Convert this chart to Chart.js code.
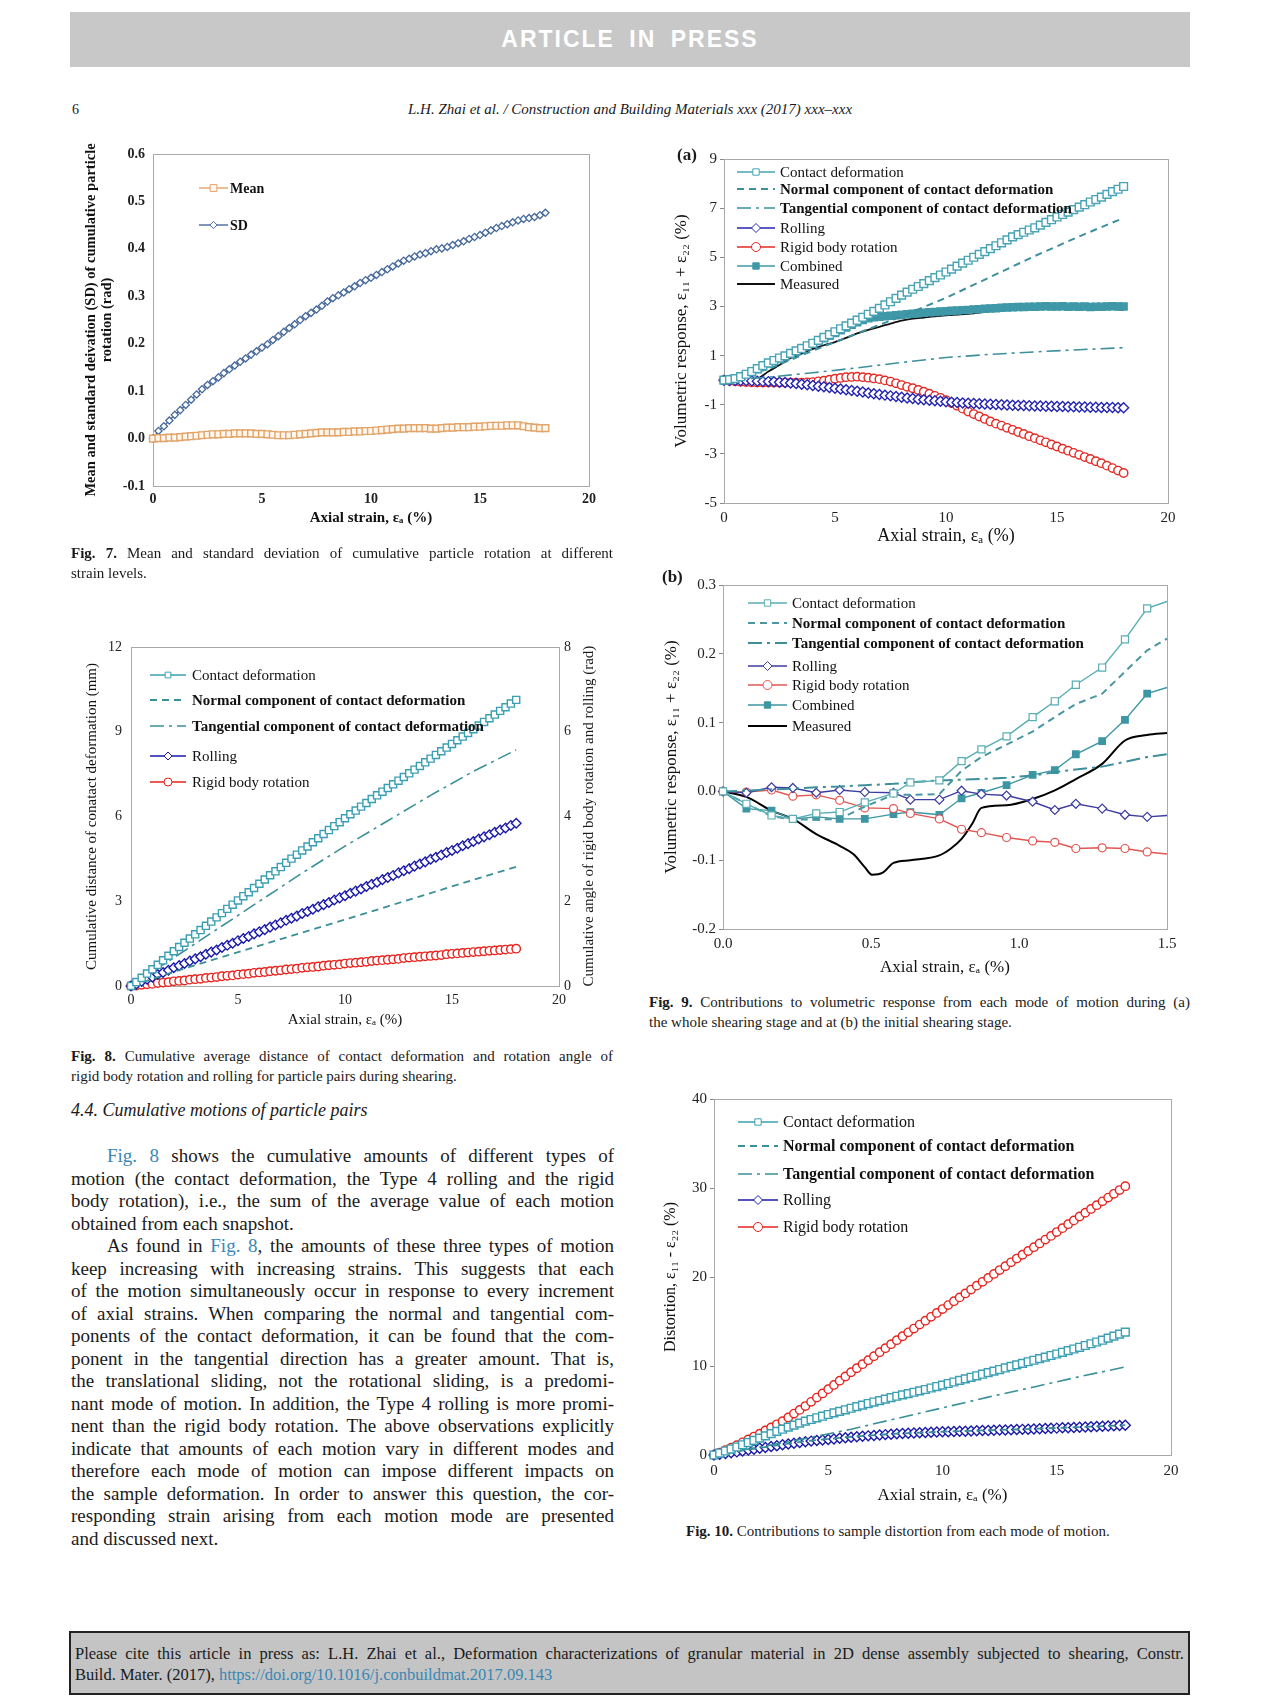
<!DOCTYPE html>
<html>
<head>
<meta charset="utf-8">
<script src="https://cdn.jsdelivr.net/npm/chart.js@4.4.1/dist/chart.umd.min.js"></script>
<style>
  body { margin: 0; background: #fff; }
  #page { position: relative; width: 1280px; height: 1706px; overflow: hidden; background: #fff;
          font-family: "Liberation Serif", "Times New Roman", serif; color: #1a1a1a; }
  canvas { position: absolute; }
  .abs { position: absolute; white-space: nowrap; }
  .bar { left: 70px; top: 12px; width: 1120px; height: 55px; background: #c8c8c8; }
  .bar span { display: block; text-align: center; color: #fff; font: bold 23px "Liberation Sans", Arial, sans-serif;
              line-height: 55px; letter-spacing: 2px; word-spacing: 6px; }
  .block div { white-space: normal; text-align: justify; text-align-last: justify; }
  .block div.l { text-align: left; text-align-last: left; }
  .block div.ind { padding-left: 36px; }
  .cap { font-size: 15px; line-height: 19.5px; }
  .body { font-size: 19px; line-height: 22.5px; }
  .lnk { color: #3a87b5; }
  .cite { left: 69px; top: 1631px; width: 1109px; height: 60px; border: 2px solid #222; background: #c4c4c4;
          padding: 0 4px; font-size: 16.5px; line-height: 21px; }
  .cite div { white-space: normal; text-align: justify; text-align-last: justify; padding-top: 10px; }
  .cite div.l { text-align-last: left; padding-top: 0; }
</style>
</head>
<body>
<div id="page">
  <div class="abs bar"><span>ARTICLE IN PRESS</span></div>
  <div class="abs" style="left:72px; top:101px; font-size:14px; line-height:18px;">6</div>
  <div class="abs" style="left:330px; width:600px; top:100px; text-align:center; font-style:italic; font-size:15px; line-height:18px;">L.H. Zhai et al. / Construction and Building Materials xxx (2017) xxx–xxx</div>

  <canvas id="fig7" width="560" height="400" style="left:60px; top:130px;"></canvas>
  <canvas id="fig9a" width="530" height="420" style="left:660px; top:135px;"></canvas>
  <canvas id="fig9b" width="540" height="420" style="left:650px; top:560px;"></canvas>
  <canvas id="fig8" width="560" height="410" style="left:60px; top:630px;"></canvas>
  <canvas id="fig10" width="550" height="440" style="left:640px; top:1080px;"></canvas>

  <div class="abs" style="left:677px; top:145px; font-weight:bold; font-size:17px; line-height:20px;">(a)</div>
  <div class="abs" style="left:662px; top:567px; font-weight:bold; font-size:17px; line-height:20px;">(b)</div>
  <div class="abs" style="left:398px; top:807px; width:380px; text-align:center; font-size:15px; line-height:18px; transform:rotate(-90deg);">Cumulative angle of rigid body rotation and rolling (rad)</div>

  <div class="abs block cap" style="left:71px; top:544px; width:542px;">
    <div><b>Fig. 7.</b> Mean and standard deviation of cumulative particle rotation at different</div>
    <div class="l">strain levels.</div>
  </div>
  <div class="abs block cap" style="left:71px; top:1047px; width:542px;">
    <div><b>Fig. 8.</b> Cumulative average distance of contact deformation and rotation angle of</div>
    <div class="l">rigid body rotation and rolling for particle pairs during shearing.</div>
  </div>
  <div class="abs block cap" style="left:649px; top:993px; width:541px;">
    <div><b>Fig. 9.</b> Contributions to volumetric response from each mode of motion during (a)</div>
    <div class="l">the whole shearing stage and at (b) the initial shearing stage.</div>
  </div>
  <div class="abs cap" style="left:686px; top:1522px;"><b>Fig. 10.</b> Contributions to sample distortion from each mode of motion.</div>

  <div class="abs" style="left:71px; top:1099px; font-style:italic; font-size:18px; line-height:22px;">4.4. Cumulative motions of particle pairs</div>
  <div class="abs block body" style="left:71px; top:1145px; width:543px;">
    <div class="ind"><span class="lnk">Fig. 8</span> shows the cumulative amounts of different types of</div>
    <div>motion (the contact deformation, the Type 4 rolling and the rigid</div>
    <div>body rotation), i.e., the sum of the average value of each motion</div>
    <div class="l">obtained from each snapshot.</div>
    <div class="ind">As found in <span class="lnk">Fig. 8</span>, the amounts of these three types of motion</div>
    <div>keep increasing with increasing strains. This suggests that each</div>
    <div>of the motion simultaneously occur in response to every increment</div>
    <div>of axial strains. When comparing the normal and tangential com-</div>
    <div>ponents of the contact deformation, it can be found that the com-</div>
    <div>ponent in the tangential direction has a greater amount. That is,</div>
    <div>the translational sliding, not the rotational sliding, is a predomi-</div>
    <div>nant mode of motion. In addition, the Type 4 rolling is more promi-</div>
    <div>nent than the rigid body rotation. The above observations explicitly</div>
    <div>indicate that amounts of each motion vary in different modes and</div>
    <div>therefore each mode of motion can impose different impacts on</div>
    <div>the sample deformation. In order to answer this question, the cor-</div>
    <div>responding strain arising from each motion mode are presented</div>
    <div class="l">and discussed next.</div>
  </div>

  <div class="abs cite">
    <div>Please cite this article in press as: L.H. Zhai et al., Deformation characterizations of granular material in 2D dense assembly subjected to shearing, Constr.</div>
    <div class="l">Build. Mater. (2017), <span class="lnk">https://doi.org/10.1016/j.conbuildmat.2017.09.143</span></div>
  </div>
</div>

<script>
"use strict";

// Axial strain grids (%) shared by the full-test figures.
const STRAIN = [0,0.25,0.5,0.75,1,1.25,1.5,1.75,2,2.25,2.5,2.75,3,3.25,3.5,3.75,4,4.25,4.5,4.75,
  5,5.25,5.5,5.75,6,6.25,6.5,6.75,7,7.25,7.5,7.75,8,8.25,8.5,8.75,9,9.25,9.5,9.75,10,10.25,10.5,10.75,
  11,11.25,11.5,11.75,12,12.25,12.5,12.75,13,13.25,13.5,13.75,14,14.25,14.5,14.75,15,15.25,15.5,15.75,
  16,16.25,16.5,16.75,17,17.25,17.5,17.75,18];
const STRAIN_HALF = [0,0.5,1,1.5,2,2.5,3,3.5,4,4.5,5,5.5,6,6.5,7,7.5,8,8.5,9,9.5,10,10.5,11,11.5,12,12.5,
  13,13.5,14,14.5,15,15.5,16,16.5,17,17.5,18];
const STRAIN_COARSE = [0,2,4,6,8,10,12,14,16,18];
const STRAIN_B = [0,0.079,0.164,0.236,0.315,0.394,0.479,0.576,0.633,0.731,0.806,0.873,0.958,1.046,1.121,1.192,1.281,1.358,1.433,1.5];

const X_TICKS_20 = [0, 5, 10, 15, 20];
const FIG7_Y_TICKS = [-0.1, 0, 0.1, 0.2, 0.3, 0.4, 0.5, 0.6];
const FIG8_Y_TICKS = [0, 3, 6, 9, 12];
const FIG8_Y2_TICKS = [0, 2, 4, 6, 8];
const FIG9A_Y_TICKS = [-5, -3, -1, 1, 3, 5, 7, 9];
const FIG9B_X_TICKS = [0, 0.5, 1, 1.5];
const FIG9B_Y_TICKS = [-0.2, -0.1, 0, 0.1, 0.2, 0.3];
const FIG10_Y_TICKS = [0, 10, 20, 30, 40];

// Fig. 7 (rad)
const FIG7_MEAN = [0.000,0.001,0.001,0.002, 0.002,0.003,0.004,0.005, 0.006,0.007,0.008,0.009, 0.009,0.010,0.010,0.011,
  0.011,0.011,0.011,0.010, 0.010,0.009,0.008,0.007, 0.007,0.007,0.008,0.009, 0.010,0.011,0.012,0.013,
  0.013,0.013,0.013,0.014, 0.014,0.015,0.015,0.016, 0.016,0.017,0.018,0.019, 0.020,0.021,0.021,0.022,
  0.022,0.022,0.022,0.021, 0.021,0.022,0.023,0.023, 0.024,0.024,0.024,0.025, 0.025,0.026,0.027,0.027,
  0.027,0.028,0.028,0.028, 0.026,0.024,0.023,0.022, 0.022];
const FIG7_SD = [0.000,0.016,0.026,0.038, 0.050,0.060,0.071,0.082, 0.093,0.104,0.113,0.121, 0.129,0.138,0.146,0.154,
  0.162,0.169,0.177,0.184, 0.192,0.199,0.208,0.216, 0.225,0.233,0.241,0.250, 0.258,0.265,0.272,0.280,
  0.289,0.296,0.302,0.308, 0.315,0.321,0.328,0.334, 0.339,0.345,0.351,0.357, 0.363,0.369,0.375,0.379,
  0.384,0.388,0.391,0.395, 0.399,0.401,0.404,0.408, 0.412,0.416,0.421,0.425, 0.429,0.434,0.439,0.444,
  0.448,0.452,0.456,0.460, 0.463,0.465,0.467,0.471, 0.476];

// Fig. 8: contact (mm, left axis), rolling / rigid rotation (rad, right axis)
const FIG8_CONTACT = [0.00,0.14,0.29,0.44, 0.59,0.75,0.91,1.07, 1.23,1.38,1.53,1.68, 1.83,1.98,2.13,2.28,
  2.43,2.58,2.73,2.88, 3.03,3.18,3.32,3.47, 3.62,3.77,3.92,4.06, 4.21,4.36,4.51,4.65,
  4.80,4.94,5.09,5.23, 5.38,5.52,5.66,5.80, 5.94,6.08,6.21,6.35, 6.48,6.62,6.75,6.88,
  7.01,7.14,7.27,7.40, 7.53,7.66,7.79,7.92, 8.05,8.18,8.31,8.44, 8.57,8.70,8.83,8.96,
  9.09,9.22,9.35,9.48, 9.61,9.74,9.87,10.00, 10.13];
const FIG8_NORMAL = [0, 0.5, 0.97, 1.43, 1.89, 2.35, 2.82, 3.29, 3.76, 4.22];
const FIG8_TANGENTIAL = [0, 1.0, 2.0, 3.0, 4.0, 4.95, 5.85, 6.75, 7.6, 8.36];
const FIG8_ROLLING = [0.00,0.05,0.11,0.16, 0.21,0.27,0.32,0.37, 0.43,0.48,0.53,0.59, 0.64,0.69,0.75,0.80,
  0.85,0.91,0.96,1.01, 1.07,1.12,1.17,1.23, 1.28,1.33,1.39,1.44, 1.49,1.55,1.60,1.65,
  1.71,1.76,1.81,1.87, 1.92,1.97,2.03,2.08, 2.13,2.19,2.24,2.29, 2.35,2.40,2.45,2.51,
  2.56,2.61,2.67,2.72, 2.77,2.83,2.88,2.93, 2.99,3.04,3.09,3.15, 3.20,3.25,3.31,3.36,
  3.41,3.47,3.52,3.57, 3.63,3.68,3.73,3.79, 3.84];
const FIG8_RIGID = [0.00,0.01,0.03,0.04, 0.05,0.07,0.08,0.09, 0.11,0.12,0.13,0.15, 0.16,0.17,0.19,0.20,
  0.21,0.23,0.24,0.25, 0.27,0.28,0.29,0.31, 0.32,0.33,0.35,0.36, 0.37,0.39,0.40,0.41,
  0.43,0.44,0.45,0.46, 0.48,0.49,0.50,0.51, 0.53,0.54,0.55,0.56, 0.57,0.59,0.60,0.61,
  0.62,0.63,0.64,0.66, 0.67,0.68,0.69,0.70, 0.71,0.72,0.73,0.75, 0.76,0.77,0.78,0.79,
  0.80,0.81,0.82,0.83, 0.84,0.85,0.86,0.87, 0.88];

// Fig. 9(a): volumetric response (%), whole shearing stage
const FIG9A_CONTACT = [0.00,0.02,0.06,0.14, 0.24,0.35,0.47,0.59, 0.70,0.80,0.90,0.99, 1.09,1.19,1.29,1.40,
  1.50,1.62,1.74,1.85, 1.97,2.09,2.21,2.32, 2.44,2.56,2.68,2.80, 2.92,3.06,3.19,3.33,
  3.46,3.58,3.70,3.81, 3.93,4.05,4.17,4.28, 4.40,4.52,4.64,4.76, 4.88,5.00,5.12,5.23,
  5.35,5.47,5.59,5.71, 5.83,5.92,6.02,6.11, 6.20,6.31,6.42,6.53, 6.64,6.74,6.84,6.94,
  7.04,7.14,7.25,7.35, 7.45,7.56,7.67,7.77, 7.88];
const FIG9A_NORMAL = [0, 0.45, 1.2, 1.9, 2.6, 3.35, 4.2, 5.05, 5.85, 6.6];
const FIG9A_TANGENTIAL = [0, 0.12, 0.3, 0.5, 0.72, 0.92, 1.05, 1.15, 1.24, 1.32];
const FIG9A_ROLLING = [0.00,-0.01,-0.01,-0.02, -0.02,-0.03,-0.04,-0.05, -0.06,-0.07,-0.09,-0.10, -0.12,-0.14,-0.17,-0.19,
  -0.22,-0.25,-0.27,-0.30, -0.33,-0.36,-0.39,-0.42, -0.45,-0.48,-0.52,-0.55, -0.58,-0.61,-0.64,-0.67,
  -0.70,-0.73,-0.75,-0.78, -0.80,-0.82,-0.84,-0.86, -0.88,-0.90,-0.91,-0.93, -0.94,-0.95,-0.96,-0.97,
  -0.98,-0.99,-1.00,-1.01, -1.02,-1.03,-1.03,-1.04, -1.05,-1.05,-1.06,-1.06, -1.07,-1.07,-1.08,-1.08,
  -1.09,-1.09,-1.10,-1.10, -1.11,-1.11,-1.11,-1.12, -1.12];
const FIG9A_RIGID = [0.00,-0.03,-0.05,-0.07, -0.08,-0.09,-0.10,-0.10, -0.10,-0.10,-0.10,-0.10, -0.10,-0.10,-0.10,-0.09,
  -0.08,-0.05,-0.02,0.02, 0.06,0.09,0.12,0.13, 0.14,0.12,0.10,0.07, 0.04,-0.01,-0.06,-0.13,
  -0.20,-0.27,-0.33,-0.40, -0.47,-0.55,-0.64,-0.72, -0.81,-0.93,-1.04,-1.16, -1.28,-1.38,-1.48,-1.58,
  -1.68,-1.77,-1.85,-1.94, -2.02,-2.11,-2.19,-2.28, -2.36,-2.45,-2.53,-2.62, -2.70,-2.79,-2.87,-2.96,
  -3.04,-3.13,-3.21,-3.30, -3.38,-3.48,-3.58,-3.68, -3.78];
const FIG9A_COMBINED = [0.00,0.02,0.05,0.12, 0.20,0.32,0.44,0.56, 0.68,0.78,0.88,0.97, 1.07,1.17,1.27,1.38,
  1.48,1.59,1.70,1.81, 1.92,2.03,2.14,2.25, 2.36,2.45,2.52,2.56, 2.58,2.60,2.62,2.64,
  2.66,2.68,2.70,2.72, 2.74,2.76,2.77,2.79, 2.80,2.82,2.83,2.85, 2.86,2.88,2.89,2.91,
  2.92,2.93,2.95,2.96, 2.97,2.98,2.98,2.99, 2.99,3.00,3.01,3.00, 3.00,3.01,2.99,3.00,
  2.99,3.00,2.98,2.99, 2.99,3.00,3.01,3.00, 3.00];
const FIG9A_MEASURED = [0,-0.1,-0.12,0.05,0.35,0.62,0.9,1.08,1.27,1.42,1.55,1.72,1.9,2.05,2.17,2.3,2.42,2.5,2.55,
  2.6,2.64,2.67,2.7,2.75,2.82,2.9,2.93,2.93,2.92,2.93,2.94,2.92,2.93,2.9,2.88,2.9,2.85];

// Fig. 9(b): initial shearing stage (%)
const FIG9B_CONTACT = [0,-0.018,-0.035,-0.04,-0.032,-0.03,-0.016,-0.003,0.013,0.016,0.044,0.061,0.08,0.108,0.131,0.155,0.18,0.221,0.266,0.276];
const FIG9B_NORMAL = [0,-0.018,-0.036,-0.041,-0.041,-0.04,-0.022,-0.005,-0.005,-0.004,0.03,0.05,0.068,0.087,0.108,0.127,0.142,0.174,0.205,0.222];
const FIG9B_TANGENTIAL = [0,0.001,0.003,0.004,0.006,0.007,0.009,0.011,0.013,0.016,0.017,0.018,0.02,0.023,0.028,0.032,0.036,0.043,0.05,0.054];
const FIG9B_ROLLING = [0,-0.002,0.006,0.005,-0.002,0.002,-0.001,-0.002,-0.012,-0.012,0.001,-0.004,-0.006,-0.015,-0.027,-0.018,-0.025,-0.034,-0.037,-0.035];
const FIG9B_RIGID = [0,-0.001,0.002,-0.007,-0.005,-0.013,-0.024,-0.025,-0.032,-0.04,-0.055,-0.06,-0.067,-0.072,-0.074,-0.083,-0.082,-0.083,-0.088,-0.091];
const FIG9B_COMBINED = [0,-0.025,-0.028,-0.04,-0.037,-0.04,-0.04,-0.033,-0.03,-0.034,-0.01,-0.002,0.009,0.024,0.031,0.054,0.073,0.104,0.142,0.151];
const FIG9B_MEASURED_X = [0,0.079,0.164,0.236,0.315,0.394,0.44,0.479,0.503,0.54,0.576,0.633,0.731,0.77,0.806,0.842,0.873,0.958,1.046,1.121,1.192,1.281,1.358,1.433,1.5];
const FIG9B_MEASURED = [0,-0.008,-0.028,-0.04,-0.062,-0.079,-0.091,-0.11,-0.121,-0.118,-0.104,-0.1,-0.093,-0.083,-0.069,-0.047,-0.024,-0.02,-0.011,0.0015,0.018,0.04,0.074,0.082,0.085];

// Fig. 10: distortion (%)
const FIG10_CONTACT = [0.00,0.22,0.45,0.67, 0.90,1.15,1.40,1.65, 1.90,2.15,2.40,2.65, 2.90,3.13,3.35,3.58,
  3.80,3.99,4.18,4.36, 4.55,4.73,4.90,5.08, 5.25,5.43,5.60,5.78, 5.95,6.11,6.28,6.44,
  6.60,6.75,6.90,7.05, 7.20,7.36,7.53,7.69, 7.85,8.03,8.20,8.38, 8.55,8.73,8.90,9.08,
  9.25,9.43,9.60,9.78, 9.95,10.13,10.30,10.48, 10.65,10.83,11.00,11.18, 11.35,11.54,11.73,11.91,
  12.10,12.30,12.50,12.70, 12.90,13.13,13.35,13.58, 13.80];
const FIG10_NORMAL = [0, 0.8, 1.55, 2.05, 2.4, 2.62, 2.78, 2.94, 3.14, 3.35];
const FIG10_TANGENTIAL = [0, 0.9, 1.85, 2.9, 4.1, 5.3, 6.5, 7.65, 8.8, 9.9];
const FIG10_ROLLING = [0.00,0.09,0.18,0.26, 0.35,0.45,0.55,0.65, 0.75,0.85,0.95,1.05, 1.15,1.24,1.33,1.41,
  1.50,1.56,1.63,1.69, 1.75,1.81,1.88,1.94, 2.00,2.05,2.10,2.15, 2.20,2.25,2.29,2.34,
  2.38,2.41,2.44,2.47, 2.50,2.53,2.55,2.58, 2.60,2.62,2.64,2.66, 2.68,2.70,2.72,2.74,
  2.76,2.78,2.80,2.82, 2.84,2.86,2.88,2.90, 2.92,2.95,2.97,3.00, 3.02,3.05,3.07,3.10,
  3.12,3.15,3.18,3.21, 3.24,3.26,3.29,3.31, 3.33];
const FIG10_RIGID = [0.00,0.27,0.55,0.82, 1.10,1.42,1.75,2.07, 2.40,2.75,3.10,3.45, 3.80,4.22,4.65,5.07,
  5.50,5.97,6.45,6.92, 7.40,7.87,8.35,8.82, 9.30,9.75,10.20,10.65, 11.10,11.55,12.00,12.45,
  12.90,13.34,13.78,14.21, 14.65,15.09,15.53,15.96, 16.40,16.84,17.28,17.71, 18.15,18.59,19.03,19.46,
  19.90,20.34,20.78,21.21, 21.65,22.07,22.50,22.92, 23.35,23.77,24.20,24.62, 25.05,25.49,25.93,26.36,
  26.80,27.22,27.65,28.07, 28.50,28.92,29.35,29.77, 30.20];

const SERIF = '"Liberation Serif", "Times New Roman", serif';
const AXIAL = "Axial strain, εₐ (%)";
const DASH = [7, 5];
const DASH_DOT = [14, 5, 3, 5];

Chart.defaults.font.family = SERIF;

function font(size, bold) {
  return { family: SERIF, size, weight: bold ? "bold" : "normal", lineHeight: 1.15 };
}

function series(label, xs, ys, style) {
  return Object.assign({
    label,
    data: ys.map((y, i) => ({ x: xs[i], y })),
    borderWidth: 1.4, pointRadius: 0, pointBorderWidth: 1.4, tension: 0, fill: false, clip: 8,
  }, style);
}

function openMark(color, shape, r) {
  return { borderColor: color, pointStyle: shape, pointRadius: r, pointBackgroundColor: "#fff", pointBorderColor: color };
}

function axis(a) {
  return {
    type: "linear", position: a.pos, min: a.min, max: a.max,
    afterBuildTicks: (s) => { s.ticks = a.ticks.map((v) => ({ value: v })); },
    afterFit: (s) => { if (a.pos === "bottom") s.height = a.size; else s.width = a.size; },
    ticks: { font: a.tickFont, color: "#222", padding: a.tickPad, callback: a.fmt || ((v) => v) },
    grid: { display: !!a.tickLen, drawOnChartArea: false, drawTicks: !!a.tickLen, tickLength: a.tickLen || 0, color: "#888" },
    border: { display: false },
    title: a.title
      ? { display: true, text: a.title, font: a.titleFont, color: "#111", padding: a.titlePad }
      : { display: false },
  };
}

// Grey box round the plot area, like the spreadsheet originals.
const framePlugin = {
  id: "frame",
  beforeDatasetsDraw(chart) {
    const { ctx, chartArea: a } = chart;
    ctx.save();
    ctx.strokeStyle = "#aaaaaa";
    ctx.lineWidth = 1;
    ctx.strokeRect(Math.round(a.left) + 0.5, Math.round(a.top) + 0.5,
      Math.round(a.right - a.left), Math.round(a.bottom - a.top));
    ctx.restore();
  },
};

function drawMark(ctx, shape, x, y, r, fill, stroke) {
  ctx.beginPath();
  if (shape === "rect") {
    const h = r * Math.SQRT1_2;
    ctx.rect(x - h, y - h, 2 * h, 2 * h);
  } else if (shape === "rectRot") {
    ctx.moveTo(x, y - r); ctx.lineTo(x + r, y); ctx.lineTo(x, y + r); ctx.lineTo(x - r, y); ctx.closePath();
  } else {
    ctx.arc(x, y, r, 0, Math.PI * 2);
  }
  ctx.fillStyle = fill; ctx.fill();
  ctx.lineWidth = 1; ctx.strokeStyle = stroke; ctx.stroke();
}

// Legend drawn inside the plot at the spots the figures use.
function inLegend(cfg) {
  return {
    id: "inLegend",
    afterDatasetsDraw(chart) {
      const ctx = chart.ctx;
      chart.data.datasets.forEach((ds, i) => {
        const y = cfg.rows[i];
        ctx.save();
        ctx.strokeStyle = ds.borderColor;
        ctx.lineWidth = ds.borderWidth;
        ctx.setLineDash(ds.borderDash || []);
        ctx.beginPath();
        ctx.moveTo(cfg.x0, y);
        ctx.lineTo(cfg.x1, y);
        ctx.stroke();
        ctx.setLineDash([]);
        if (ds.pointStyle) {
          const r = cfg.markR || ds.pointRadius;
          drawMark(ctx, ds.pointStyle, (cfg.x0 + cfg.x1) / 2, y, r, ds.pointBackgroundColor, ds.pointBorderColor);
        }
        const bold = cfg.bold.includes(i);
        ctx.font = `${bold ? "bold " : ""}${cfg.size}px ${SERIF}`;
        ctx.fillStyle = "#111";
        ctx.textBaseline = "middle";
        ctx.fillText(ds.label, cfg.tx, y + 1);
        ctx.restore();
      });
    },
  };
}

function plotChart(id, cfg) {
  const scales = {};
  for (const [key, a] of Object.entries(cfg.axes)) scales[key] = axis(a);
  return new Chart(document.getElementById(id), {
    type: "line",
    data: { datasets: cfg.datasets },
    options: {
      responsive: false, animation: false, events: [],
      layout: { padding: cfg.pad },
      scales,
      plugins: { legend: { display: false }, tooltip: { enabled: false } },
    },
    plugins: [framePlugin, inLegend(cfg.legend)],
  });
}

const one = (v) => v.toFixed(1);

// Fig. 7
plotChart("fig7", {
  pad: { left: 0, top: 24, right: 31, bottom: 0 },
  axes: {
    x: { pos: "bottom", min: 0, max: 20, ticks: X_TICKS_20, size: 44, tickFont: font(14, true), tickPad: 5,
         title: AXIAL, titleFont: font(15, true), titlePad: { top: 0, bottom: 3 } },
    y: { pos: "left", min: -0.1, max: 0.6, ticks: FIG7_Y_TICKS, size: 93, tickFont: font(14, true), tickPad: 8, fmt: one,
         title: ["Mean and standard deivation (SD) of cumulative particle", "rotation (rad)"],
         titleFont: { family: SERIF, size: 14.5, weight: "bold", lineHeight: 1.05 }, titlePad: { top: 24, bottom: 0 } },
  },
  datasets: [
    series("Mean", STRAIN, FIG7_MEAN, Object.assign(openMark("#e2a468", "rect", 4.8), { pointBackgroundColor: "#fff7ee" })),
    series("SD", STRAIN, FIG7_SD, Object.assign(openMark("#46699b", "rectRot", 3.6), { pointBorderWidth: 1.3 })),
  ],
  legend: { rows: [58, 95], x0: 139, x1: 168, tx: 170, size: 14, bold: [0, 1] },
});

// Fig. 9(a)
plotChart("fig9a", {
  pad: { left: 0, top: 24, right: 22, bottom: 0 },
  axes: {
    x: { pos: "bottom", min: 0, max: 20, ticks: X_TICKS_20, size: 52, tickFont: font(15), tickPad: 6,
         title: AXIAL, titleFont: font(18), titlePad: { top: 0, bottom: 8 } },
    y: { pos: "left", min: -5, max: 9, ticks: FIG9A_Y_TICKS, size: 64, tickFont: font(15), tickPad: 3, tickLen: 4,
         title: "Volumetric response, ε₁₁ + ε₂₂ (%)", titleFont: font(17), titlePad: { top: 12, bottom: 0 } },
  },
  datasets: [
    series("Contact deformation", STRAIN, FIG9A_CONTACT, openMark("#47a3b5", "rect", 5.5)),
    series("Normal component of contact deformation", STRAIN_COARSE, FIG9A_NORMAL,
      { borderColor: "#3d8f9c", borderWidth: 2, borderDash: DASH }),
    series("Tangential component of contact deformation", STRAIN_COARSE, FIG9A_TANGENTIAL,
      { borderColor: "#3d8f9c", borderWidth: 1.6, borderDash: DASH_DOT }),
    series("Rolling", STRAIN, FIG9A_ROLLING, openMark("#2424b2", "rectRot", 5)),
    series("Rigid body rotation", STRAIN, FIG9A_RIGID, openMark("#e42a24", "circle", 4.2)),
    series("Combined", STRAIN, FIG9A_COMBINED,
      { borderColor: "#3e98a8", pointStyle: "rect", pointRadius: 5, pointBackgroundColor: "#3e98a8", pointBorderColor: "#3e98a8" }),
    series("Measured", STRAIN_HALF, FIG9A_MEASURED, { borderColor: "#111", borderWidth: 1.8, tension: 0.3 }),
  ],
  legend: { rows: [37, 54, 73, 93, 112, 131, 149], x0: 77, x1: 115, tx: 120, size: 15, markR: 4.5, bold: [1, 2] },
});

// Fig. 9(b)
const lastOff = (r) => (c) => (c.dataIndex === STRAIN_B.length - 1 ? 0 : r);
plotChart("fig9b", {
  pad: { left: 0, top: 25, right: 23, bottom: 0 },
  axes: {
    x: { pos: "bottom", min: 0, max: 1.5, ticks: FIG9B_X_TICKS, size: 51, tickFont: font(15), tickPad: 6, fmt: one,
         title: AXIAL, titleFont: font(17), titlePad: { top: 0, bottom: 3 } },
    y: { pos: "left", min: -0.2, max: 0.3, ticks: FIG9B_Y_TICKS, size: 73, tickFont: font(15), tickPad: 3, tickLen: 4, fmt: one,
         title: "Volumetric response, ε₁₁ + ε₂₂ (%)", titleFont: font(17), titlePad: { top: 12, bottom: 0 } },
  },
  datasets: [
    series("Contact deformation", STRAIN_B, FIG9B_CONTACT,
      Object.assign(openMark("#58aeb4", "rect", 5), { pointRadius: lastOff(5), pointBorderWidth: 1.2 })),
    series("Normal component of contact deformation", STRAIN_B, FIG9B_NORMAL,
      { borderColor: "#4a97a2", borderWidth: 2, borderDash: DASH }),
    series("Tangential component of contact deformation", STRAIN_B, FIG9B_TANGENTIAL,
      { borderColor: "#3d8f9c", borderWidth: 2, borderDash: DASH_DOT }),
    series("Rolling", STRAIN_B, FIG9B_ROLLING,
      Object.assign(openMark("#3d3da2", "rectRot", 4.5), { pointRadius: lastOff(4.5), pointBorderWidth: 1.2 })),
    series("Rigid body rotation", STRAIN_B, FIG9B_RIGID,
      Object.assign(openMark("#e05652", "circle", 4), { pointRadius: lastOff(4), pointBorderWidth: 1.2 })),
    series("Combined", STRAIN_B, FIG9B_COMBINED,
      { borderColor: "#3c96a4", pointStyle: "rect", pointRadius: lastOff(4.5), pointBackgroundColor: "#3c96a4", pointBorderColor: "#3c96a4" }),
    series("Measured", FIG9B_MEASURED_X, FIG9B_MEASURED,
      { borderColor: "#000", borderWidth: 2, cubicInterpolationMode: "monotone" }),
  ],
  legend: { rows: [43, 63, 83, 106, 125, 145, 166], x0: 98, x1: 137, tx: 142, size: 15, markR: 4.5, bold: [1, 2] },
});

// Fig. 8
plotChart("fig8", {
  pad: { left: 0, top: 17, right: 0, bottom: 0 },
  axes: {
    x: { pos: "bottom", min: 0, max: 20, ticks: X_TICKS_20, size: 54, tickFont: font(14), tickPad: 6,
         title: AXIAL, titleFont: font(15), titlePad: { top: 0, bottom: 11 } },
    y: { pos: "left", min: 0, max: 12, ticks: FIG8_Y_TICKS, size: 71, tickFont: font(14), tickPad: 9,
         title: "Cumulative distance of conatact deformation (mm)", titleFont: font(15), titlePad: { top: 23, bottom: 0 } },
    y1: { pos: "right", min: 0, max: 8, ticks: FIG8_Y2_TICKS, size: 61, tickFont: font(14), tickPad: 5 },
  },
  datasets: [
    series("Contact deformation", STRAIN, FIG8_CONTACT, openMark("#3a9fb2", "rect", 5)),
    series("Normal component of contact deformation", STRAIN_COARSE, FIG8_NORMAL,
      { borderColor: "#3a9098", borderWidth: 1.8, borderDash: DASH }),
    series("Tangential component of contact deformation", STRAIN_COARSE, FIG8_TANGENTIAL,
      { borderColor: "#3a9098", borderWidth: 1.6, borderDash: DASH_DOT }),
    series("Rolling", STRAIN, FIG8_ROLLING, Object.assign(openMark("#1a1aa8", "rectRot", 4.8), { yAxisID: "y1" })),
    series("Rigid body rotation", STRAIN, FIG8_RIGID, Object.assign(openMark("#e6231e", "circle", 4.2), { yAxisID: "y1" })),
  ],
  legend: { rows: [45, 70, 96, 126, 152], x0: 90, x1: 126, tx: 132, size: 15, markR: 4, bold: [1, 2] },
});

// Fig. 10
plotChart("fig10", {
  pad: { left: 0, top: 19, right: 19, bottom: 0 },
  axes: {
    x: { pos: "bottom", min: 0, max: 20, ticks: X_TICKS_20, size: 65, tickFont: font(15), tickPad: 7,
         title: AXIAL, titleFont: font(17), titlePad: { top: 0, bottom: 15 } },
    y: { pos: "left", min: 0, max: 40, ticks: FIG10_Y_TICKS, size: 74, tickFont: font(15), tickPad: 3, tickLen: 4,
         title: "Distortion, ε₁₁ - ε₂₂ (%)", titleFont: font(16), titlePad: { top: 22, bottom: 0 } },
  },
  datasets: [
    series("Contact deformation", STRAIN, FIG10_CONTACT, openMark("#3a9fb2", "rect", 5.5)),
    series("Normal component of contact deformation", STRAIN_COARSE, FIG10_NORMAL,
      { borderColor: "#3a9098", borderWidth: 1.8, borderDash: DASH }),
    series("Tangential component of contact deformation", STRAIN_COARSE, FIG10_TANGENTIAL,
      { borderColor: "#3a9098", borderWidth: 1.6, borderDash: DASH_DOT }),
    series("Rolling", STRAIN, FIG10_ROLLING, openMark("#1a1aa8", "rectRot", 5)),
    series("Rigid body rotation", STRAIN, FIG10_RIGID, openMark("#e6231e", "circle", 4.2)),
  ],
  legend: { rows: [42, 66, 94, 120, 147], x0: 98, x1: 138, tx: 143, size: 16, markR: 4.5, bold: [1, 2] },
});
</script>
</body>
</html>
